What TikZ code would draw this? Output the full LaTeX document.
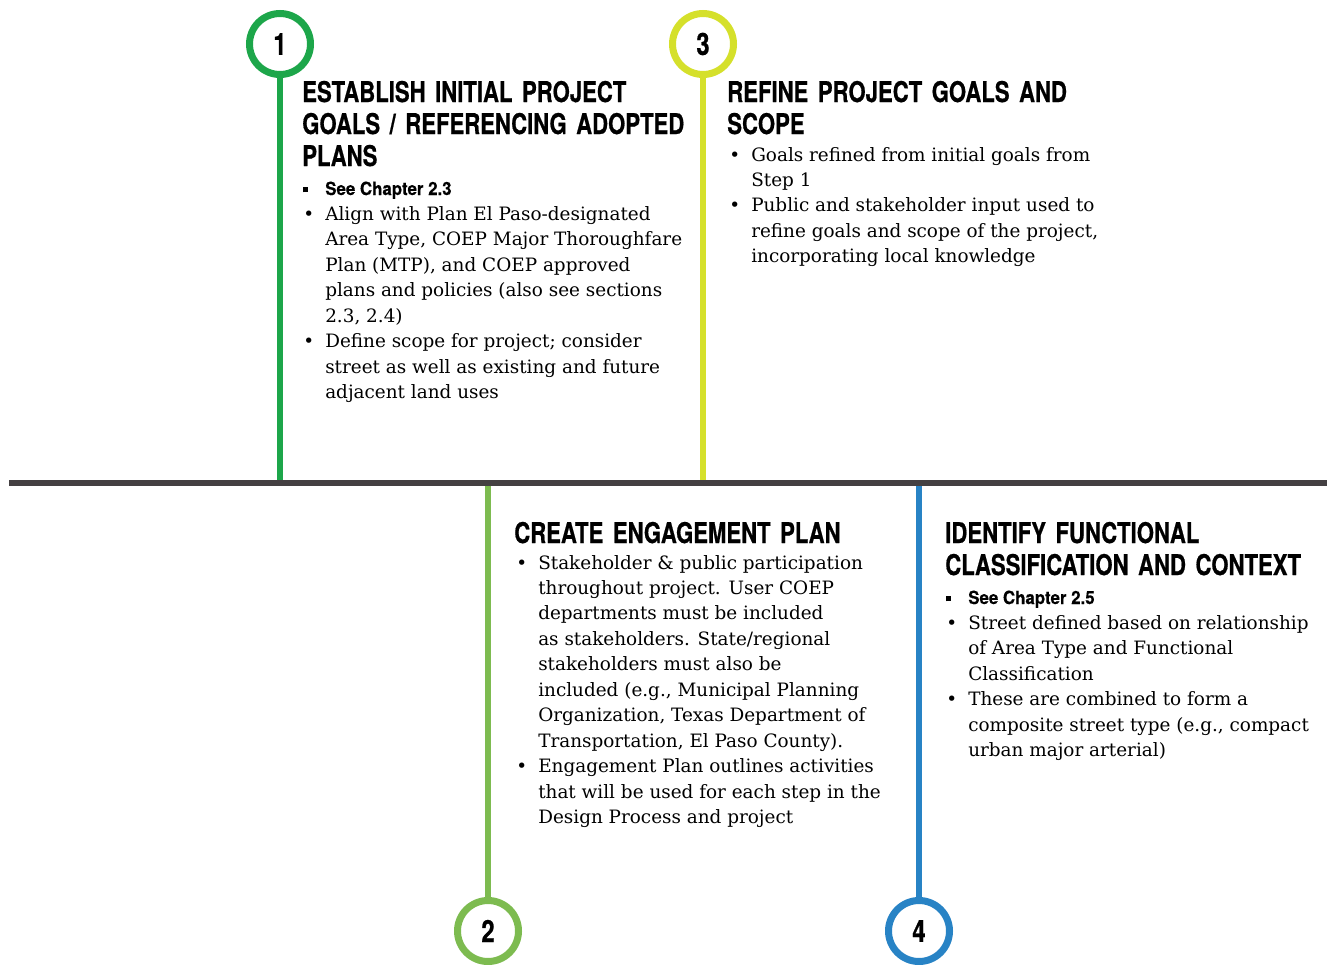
\documentclass[tikz,border=0pt]{standalone}
\usepackage{fontspec}
\usepackage{xcolor}
\usepackage{tikz}
\usetikzlibrary{positioning}

\setmainfont{DejaVu Serif}
\newfontfamily\headfont[FakeStretch=0.775, FakeBold=0.6]{TeX Gyre Heros}
\newfontfamily\subfont[FakeStretch=0.93, FakeBold=0.4]{TeX Gyre Heros}

\definecolor{stepone}{HTML}{1DA64A}
\definecolor{steptwo}{HTML}{7DBB50}
\definecolor{stepthree}{HTML}{D5E02B}
\definecolor{stepfour}{HTML}{2883C5}
\definecolor{axisgray}{HTML}{444042}

\newcommand{\sqbul}{\rule[2pt]{3.2pt}{3.8pt}}
\newcommand{\seech}[1]{{\subfont\bfseries\fontsize{13.6}{19.1}\selectfont See Chapter #1}}

\begin{document}
\begin{tikzpicture}[x=0.75pt, y=-0.75pt,
    num/.style={circle, draw, fill=white, line width=5.25pt, minimum size=45.75pt, inner sep=0pt,
        font=\headfont\bfseries\fontsize{23}{23}\selectfont},
    stem/.style={line width=4.5pt},
    head/.style={anchor=base west, inner sep=0pt, text width=420pt, align=left,
        font=\headfont\bfseries\fontsize{21.4}{24}\selectfont},
    body/.style={anchor=base west, inner sep=0pt, font=\fontsize{13.8}{19.1}\selectfont}]
    \useasboundingbox (0,0) rectangle (1327,964);

    % timeline
    \coordinate (axl) at (9,483);
    \coordinate (axr) at (1327,483);
    \coordinate (a1) at (280,483);
    \coordinate (a2) at (488,483);
    \coordinate (a3) at (703,483);
    \coordinate (a4) at (919,483);

    % step markers
    \node[num, draw=stepone] (c1) at (280,44) {1};
    \node[num, draw=steptwo] (c2) at (488,931) {2};
    \node[num, draw=stepthree] (c3) at (703,44) {3};
    \node[num, draw=stepfour] (c4) at (919,931) {4};

    \draw[stem, stepone] (c1) -- (a1);
    \draw[stem, steptwo] (c2) -- (a2);
    \draw[stem, stepthree] (c3) -- (a3);
    \draw[stem, stepfour] (c4) -- (a4);
    \draw[line width=4.2pt, axisgray] (axl) -- (axr);

    % step 1
    \node[head] (h1) at (302,102) {ESTABLISH INITIAL PROJECT\\GOALS / REFERENCING ADOPTED\\PLANS};
    \node[body] (b1) at (303,195) {\begin{tabular}[t]{@{}p{16.5pt}@{}l@{}}
        \sqbul & \seech{2.3}\\
        \textbullet & Align with Plan El Paso-designated\\
        & Area Type, COEP Major Thoroughfare\\
        & Plan (MTP), and COEP approved\\
        & plans and policies (also see sections\\
        & 2.3, 2.4)\\
        \textbullet & Define scope for project; consider\\
        & street as well as existing and future\\
        & adjacent land uses
    \end{tabular}};

    % step 3
    \node[head] (h3) at (727,102) {REFINE PROJECT GOALS AND\\SCOPE};
    \node[body] (b3) at (729,161) {\begin{tabular}[t]{@{}p{16.5pt}@{}l@{}}
        \textbullet & Goals refined from initial goals from\\
        & Step 1\\
        \textbullet & Public and stakeholder input used to\\
        & refine goals and scope of the project,\\
        & incorporating local knowledge
    \end{tabular}};

    % step 2
    \node[head] (h2) at (514,543) {CREATE ENGAGEMENT PLAN};
    \node[body] (b2) at (516,569) {\begin{tabular}[t]{@{}p{16.5pt}@{}l@{}}
        \textbullet & Stakeholder \& public participation\\
        & throughout project. User COEP\\
        & departments must be included\\
        & as stakeholders. State/regional\\
        & stakeholders must also be\\
        & included (e.g., Municipal Planning\\
        & Organization, Texas Department of\\
        & Transportation, El Paso County).\\
        \textbullet & Engagement Plan outlines activities\\
        & that will be used for each step in the\\
        & Design Process and project
    \end{tabular}};

    % step 4
    \node[head] (h4) at (945,543) {IDENTIFY FUNCTIONAL\\CLASSIFICATION AND CONTEXT};
    \node[body] (b4) at (946,604) {\begin{tabular}[t]{@{}p{16.5pt}@{}l@{}}
        \sqbul & \seech{2.5}\\
        \textbullet & Street defined based on relationship\\
        & of Area Type and Functional\\
        & Classification\\
        \textbullet & These are combined to form a\\
        & composite street type (e.g., compact\\
        & urban major arterial)
    \end{tabular}};
\end{tikzpicture}
\end{document}
